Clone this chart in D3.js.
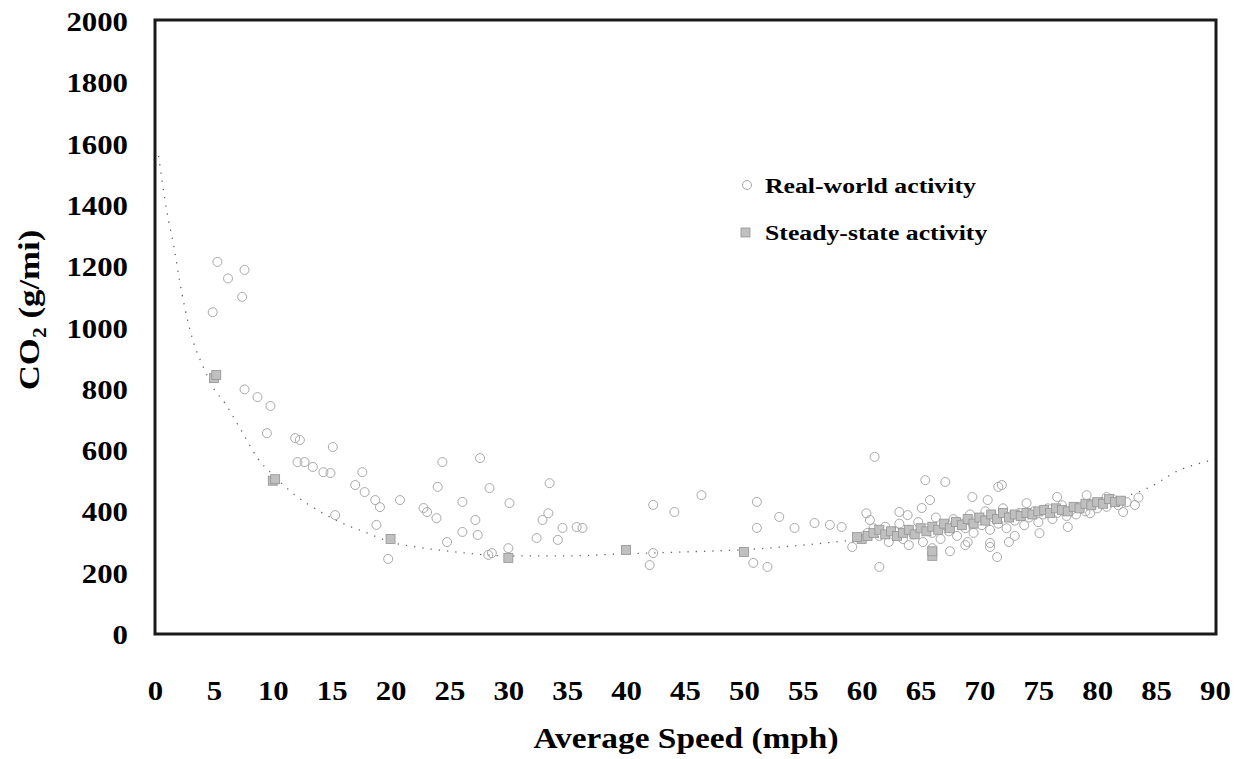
<!DOCTYPE html>
<html lang="en">
<head>
    <meta charset="UTF-8">
    <title>CO2 vs Average Speed</title>
    <script src="https://d3js.org/d3.v7.min.js"></script>
    <style>
        body {
            margin: 0;
            padding: 0;
            background: #ffffff;
            overflow: hidden;
        }
        text {
            font-family: "Liberation Serif", "Times New Roman", serif;
            font-weight: bold;
            fill: #000;
        }
        .frame {
            fill: none;
            stroke: #1a1a1a;
            stroke-width: 3;
        }
        .real {
            fill: none;
            stroke: #a8a8a8;
            stroke-width: 1;
        }
        .steady {
            fill: #c0c0c0;
            stroke: #939393;
            stroke-width: 0.8;
        }
        .trend {
            fill: none;
            stroke: #666;
            stroke-width: 1.3;
            stroke-dasharray: 1.3,7;
        }
    </style>
</head>
<body>
    <div id="chart"></div>

    <script>
        // Ticks
        const xTicks = [0, 5, 10, 15, 20, 25, 30, 35, 40, 45, 50, 55, 60, 65, 70, 75, 80, 85, 90];
        const yTicks = [0, 200, 400, 600, 800, 1000, 1200, 1400, 1600, 1800, 2000];

        // Real-world activity (open circles)
        const realSpeed = [
            4.9, 5.3, 6.2, 7.6, 7.4, 7.6, 8.7, 9.8, 9.5, 11.9, 12.3, 15.1,
            12.1, 12.7, 13.4, 14.3, 14.9, 15.3, 17.6, 17.0, 17.8, 18.7, 19.1, 20.8,
            22.8, 23.9, 24.4, 24.0, 18.8, 19.8, 26.1, 27.2, 26.1, 27.4, 24.8, 27.6,
            28.3, 28.4, 30.1, 23.1, 28.6, 30.0, 33.5, 33.4, 32.9, 32.4, 34.2, 34.6,
            35.8, 36.3, 42.3, 44.1, 46.4, 42.3, 42.0, 51.1, 51.1, 52.0, 50.8, 53.0,
            54.3, 56.0, 57.3, 58.3, 61.1, 65.4, 67.1, 65.8, 65.1, 63.2, 63.9, 60.4,
            60.7, 59.2, 61.5, 69.4, 70.7, 71.6, 70.9, 68.8, 71.9, 74.0, 76.6, 79.1,
            80.8, 83.2, 70.9, 71.5, 77.5, 75.1, 79.4, 82.2,
            60.5, 61.0, 61.5, 62.0, 62.3, 62.8, 63.2, 63.5, 64.0, 64.4, 64.8, 65.2,
            65.6, 66.0, 66.3, 66.7, 67.0, 67.4, 67.8, 68.1, 68.5, 68.8, 69.2, 69.5,
            69.9, 70.2, 70.5, 70.9, 71.2, 71.6, 72.0, 72.3, 72.7, 73.0, 73.4, 73.8,
            74.2, 74.6, 75.0, 75.4, 75.8, 76.2, 76.6, 77.0, 77.4, 77.8, 78.2, 78.6,
            79.0, 79.5, 80.0, 80.4, 80.8, 81.3, 81.8, 82.5, 83.5, 67.5, 66.0, 72.5,
            73.0, 64.0, 69.0
        ];
        const realCO2 = [
            1050, 1214, 1160, 1188, 1100, 798, 773, 744, 655, 639, 633, 610,
            561, 561, 545, 528, 525, 388, 528, 486, 463, 437, 414, 437,
            411, 378, 561, 480, 356, 245, 431, 372, 333, 323, 300, 574,
            258, 476, 427, 398, 264, 280, 492, 394, 372, 313, 307, 346,
            349, 346, 421, 398, 453, 264, 225, 431, 346, 219, 232, 382,
            346, 362, 356, 349, 578, 502, 496, 437, 411, 398, 388, 394,
            372, 284, 219, 447, 437, 480, 297, 290, 486, 427, 447, 453,
            447, 421, 284, 251, 349, 329, 394, 398,
            330, 345, 320, 350, 300, 335, 360, 310, 340, 325, 365, 300,
            345, 330, 380, 310, 355, 335, 375, 320, 360, 345, 390, 330,
            370, 355, 400, 340, 380, 360, 410, 345, 385, 370, 395, 355,
            380, 400, 365, 390, 410, 375, 395, 420, 385, 405, 390, 415,
            400, 425, 410, 430, 415, 440, 420, 430, 445, 270, 280, 300,
            320, 290, 300
        ];

        // Steady-state activity (filled squares)
        const steadySpeed = [
            5.0, 5.2, 10.0, 10.2, 20.0, 30.0, 40.0, 50.0, 60.0, 59.6,
            60.5, 61.0, 61.5, 62.0, 62.5, 63.0, 63.5, 64.0, 64.5, 65.0,
            65.5, 66.0, 66.0, 66.0, 66.5, 67.0, 67.5, 68.0, 68.5, 69.0,
            69.5, 70.0, 70.5, 71.0, 71.5, 72.0, 72.5, 73.0, 73.5, 74.0,
            74.5, 75.0, 75.5, 76.0, 76.5, 77.0, 77.5, 78.0, 78.5, 79.0,
            79.5, 80.0, 80.5, 81.0, 81.5, 82.0
        ];
        const steadyCO2 = [
            835, 845, 500, 505, 310, 248, 274, 268, 310, 316,
            320, 330, 340, 325, 335, 320, 330, 340, 325, 345,
            335, 255, 270, 350, 340, 360, 345, 365, 355, 375,
            360, 380, 370, 390, 375, 395, 380, 390, 385, 395,
            390, 400, 405, 395, 410, 405, 400, 415, 410, 425,
            420, 430, 425, 440, 430, 435
        ];

        // Faint dotted trend curve
        const trendSpeed = [0.3, 1, 1.6, 2.1, 2.5, 3.2, 4, 5, 6, 6.9, 7.6, 8.7, 10, 12, 14, 16, 18, 20, 22, 25,
            30, 35, 40, 45, 50, 55, 60, 65, 70, 75, 80, 84.5, 87, 89, 90];
        const trendCO2 = [1560, 1380, 1265, 1150, 1070, 960, 880, 800, 750, 692, 646, 574, 520, 450, 400, 360, 330, 300, 285, 270,
            255, 255, 262, 268, 275, 290, 310, 335, 365, 395, 425, 480, 535, 560, 570];

        const W = 1241, H = 759;
        const sx = 1.1; // slight horizontal stretch of the scanned lettering

        const svg = d3.select("#chart").append("svg")
            .attr("width", W)
            .attr("height", H);

        const x = d3.scaleLinear().domain([0, 90]).range([155, 1215]);
        const y = d3.scaleLinear().domain([0, 2000]).range([634, 21]);

        // Axes (labels only)
        const xAxisG = svg.append("g")
            .attr("transform", "translate(0,634)")
            .call(d3.axisBottom(x).tickValues(xTicks).tickSize(0).tickFormat(d3.format("d")));
        xAxisG.select(".domain").remove();
        xAxisG.selectAll("text")
            .attr("y", 66)
            .attr("dy", 0)
            .attr("transform", `scale(${sx},1)`)
            .style("font-size", "28px");

        const yAxisG = svg.append("g")
            .attr("transform", "translate(155,0)")
            .call(d3.axisLeft(y).tickValues(yTicks).tickSize(0).tickFormat(d3.format("d")));
        yAxisG.select(".domain").remove();
        yAxisG.selectAll("text")
            .attr("x", -27 / sx)
            .attr("dy", "0.34em")
            .attr("transform", `scale(${sx},1)`)
            .style("font-size", "28px");

        // Axis titles
        svg.append("text")
            .attr("transform", `translate(686,748) scale(1.15,1)`)
            .attr("text-anchor", "middle")
            .style("font-size", "29px")
            .text("Average Speed (mph)");

        const yTitle = svg.append("text")
            .attr("transform", `translate(39,310) rotate(-90) scale(1.2,1)`)
            .attr("text-anchor", "middle")
            .style("font-size", "29px");
        yTitle.append("tspan").text("CO");
        yTitle.append("tspan").attr("dy", 7).style("font-size", "18px").text("2");
        yTitle.append("tspan").attr("dy", -7).text(" (g/mi)");

        // Trend curve
        const trend = trendSpeed.map((s, i) => [s, trendCO2[i]]);
        svg.append("path")
            .datum(trend)
            .attr("class", "trend")
            .attr("d", d3.line().x(d => x(d[0])).y(d => y(d[1])).curve(d3.curveMonotoneX));

        // Real-world points
        const real = realSpeed.map((s, i) => ({ s: s, c: realCO2[i] }));
        svg.append("g").selectAll("circle")
            .data(real)
            .join("circle")
            .attr("class", "real")
            .attr("cx", d => x(d.s))
            .attr("cy", d => y(d.c))
            .attr("r", 4.5);

        // Steady-state points
        const steady = steadySpeed.map((s, i) => ({ s: s, c: steadyCO2[i] }));
        svg.append("g").selectAll("rect")
            .data(steady)
            .join("rect")
            .attr("class", "steady")
            .attr("x", d => x(d.s) - 4.5)
            .attr("y", d => y(d.c) - 4.5)
            .attr("width", 9)
            .attr("height", 9);

        // Frame
        svg.append("rect")
            .attr("class", "frame")
            .attr("x", 155)
            .attr("y", 20)
            .attr("width", 1061)
            .attr("height", 614);

        // Legend
        const legend = svg.append("g");
        legend.append("circle")
            .attr("class", "real")
            .attr("cx", 747)
            .attr("cy", 185)
            .attr("r", 4.5);
        legend.append("text")
            .attr("transform", `translate(765,193) scale(1.17,1)`)
            .style("font-size", "22px")
            .text("Real-world activity");
        legend.append("rect")
            .attr("class", "steady")
            .attr("x", 741)
            .attr("y", 228)
            .attr("width", 9)
            .attr("height", 9);
        legend.append("text")
            .attr("transform", `translate(765,240) scale(1.17,1)`)
            .style("font-size", "22px")
            .text("Steady-state activity");
    </script>
</body>
</html>
